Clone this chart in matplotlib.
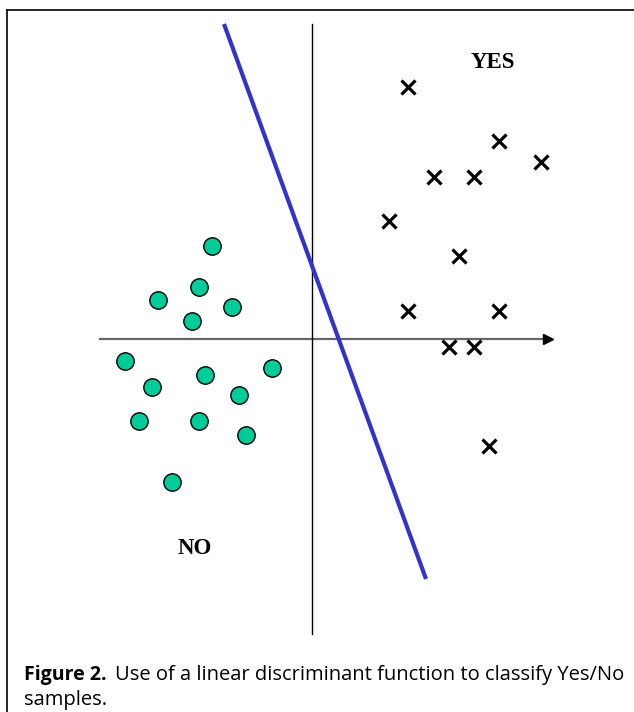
import matplotlib
matplotlib.use("Agg")
import matplotlib.pyplot as plt
from matplotlib.lines import Line2D

# Sample coordinates (origin at axis crossing, y up)
no_x = [-100, -113, -154, -120, -80, -187, -160, -107, -40, -73, -173, -113, -66, -140]
no_y = [93, 52, 39, 18, 32, -22, -48, -36, -29, -56, -82, -82, -96, -143]
yes_x = [96, 187, 229, 122, 162, 77, 147, 96, 187, 137, 162, 177]
yes_y = [252, 198, 177, 162, 162, 118, 83, 28, 28, -8, -8, -107]
# Discriminant line end points
line_x = [-88, 114]
line_y = [315, -240]

fig = plt.figure(figsize=(6.34, 7.12), dpi=100)
ax = fig.add_axes([0, 0, 1, 1])
ax.set_xlim(-312, 322)
ax.set_ylim(-373, 339)
ax.axis("off")

# frame (left and top)
fig.add_artist(Line2D([7/634, 7/634], [0, 1 - 10/712], color="black", lw=1.2))
fig.add_artist(Line2D([7/634, 1], [1 - 10/712, 1 - 10/712], color="black", lw=1.2))

# axes
ax.plot([-212, 234], [0, 0], color="#666666", lw=1.6, zorder=1)
ax.plot([236], [0], marker=">", color="black", markersize=7, zorder=2)
ax.plot([0, 0], [315, -295], color="black", lw=1.0, zorder=1)

# discriminant line
ax.plot(line_x, line_y, color="#3333cc", lw=3, solid_capstyle="butt", zorder=3)

# samples
ax.plot(no_x, no_y, linestyle="none", marker="o", markersize=12.5,
        markerfacecolor="#00cc99", markeredgecolor="black", markeredgewidth=1.0, zorder=4)
ax.plot(yes_x, yes_y, linestyle="none", marker="x", markersize=9.5,
        color="black", markeredgewidth=2.3, zorder=4)

ax.text(181, 277, "YES", fontsize=16.5, fontweight="bold", family="Liberation Serif",
        ha="center", va="center")
ax.text(-117, -209, "NO", fontsize=16.5, fontweight="bold", family="Liberation Serif",
        ha="center", va="center")

# caption
fig.text(24/634, 1 - 680/712, "Figure 2.", fontsize=14, fontweight="bold", family="Open Sans",
         ha="left", va="baseline")
fig.text(115/634, 1 - 680/712, "Use of a linear discriminant function to classify Yes/No",
         fontsize=14.5, family="Open Sans", ha="left", va="baseline")
fig.text(24/634, 1 - 705/712, "samples.", fontsize=14.5, family="Open Sans", ha="left", va="baseline")

fig.savefig("out.png", dpi=100)
